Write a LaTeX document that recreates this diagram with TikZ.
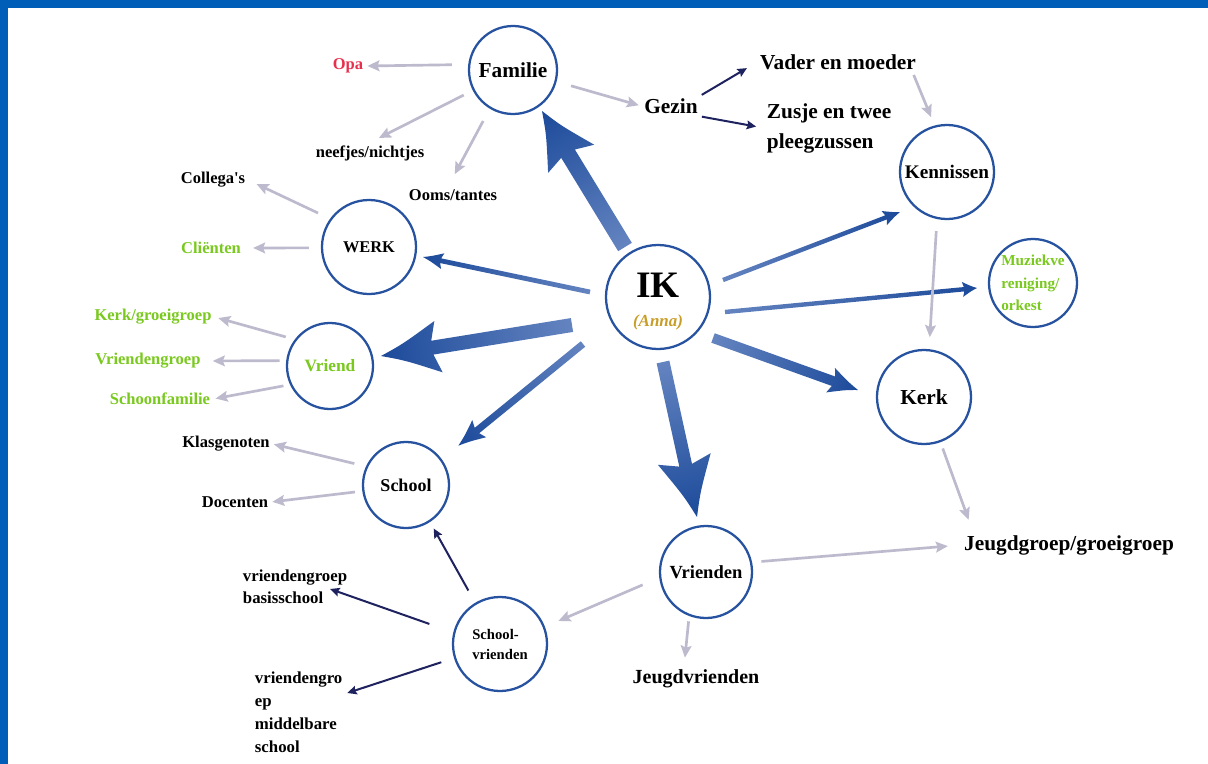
\documentclass[tikz,border=0pt]{standalone}
\usepackage{fontspec}
\setmainfont{Liberation Serif}
\usetikzlibrary{calc,arrows.meta}

\definecolor{frameblue}{RGB}{0,94,184}
\definecolor{ringblue}{RGB}{38,82,160}
\definecolor{softgray}{RGB}{189,186,205}
\definecolor{navy}{RGB}{30,34,94}
\definecolor{leaf}{RGB}{122,201,30}
\definecolor{rose}{RGB}{232,48,78}
\definecolor{gold}{RGB}{200,158,40}
\definecolor{fatlight}{RGB}{100,132,192}
\definecolor{fatdark}{RGB}{28,74,154}

% shaded block arrow: #1 tail, #2 tip, #3 half shaft, #4 half head, #5 head length (px)
\newcommand\fatarrow[5]{%
  \path let \p1=(#1), \p2=(#2),
    \n1={atan2(\y2-\y1,\x2-\x1)}, \n2={veclen(\x2-\x1,\y2-\y1)} in
    \pgfextra{\xdef\fatang{\n1}\xdef\fatlen{\n2}\xdef\fatx{\x1}\xdef\faty{\y1}};
  \pgfmathsetmacro\fA{\fatang}\pgfmathsetmacro\fL{\fatlen}
  \begin{scope}[transform canvas={shift={(\fatx,\faty)},rotate=\fA}]
    \pgfmathsetmacro\fs{0.75*#3}\pgfmathsetmacro\fw{0.75*#4}\pgfmathsetmacro\fh{0.75*#5}
    \pgfmathsetmacro\fb{\fL-\fh}\pgfmathsetmacro\fc{\fL-1.12*\fh}
    \pgfmathsetmacro\fqx{\fL-0.45*\fh}\pgfmathsetmacro\fqy{0.32*\fw}
    \shade[left color=fatlight,right color=fatdark]
      (0pt,\fs pt) -- (\fb pt,\fs pt) -- (\fc pt,\fw pt)
      .. controls (\fqx pt,\fqy pt) .. (\fL pt,0pt)
      .. controls (\fqx pt,-\fqy pt) .. (\fc pt,-\fw pt)
      -- (\fb pt,-\fs pt) -- (0pt,-\fs pt) -- cycle;
  \end{scope}}

\tikzset{
  ring/.style={circle, draw=ringblue, line width=1.7pt, inner sep=0pt, align=center},
  lab/.style={inner sep=2pt, font=\bfseries\fontsize{12.4}{15}\selectfont},
  biglab/.style={inner sep=2pt, font=\bfseries\fontsize{16}{22.5}\selectfont},
  grayarr/.style={draw=softgray, line width=2pt, -{Stealth[length=9pt,width=8pt,inset=1.5pt]}},
  navyarr/.style={draw=navy, line width=1.5pt, -{Stealth[length=7pt,width=6.5pt,inset=1pt]}},
}

\begin{document}
\begin{tikzpicture}[x=0.75pt,y=-0.75pt]
\useasboundingbox (0,0) rectangle (1208,764);
\fill[white] (0,0) rectangle (1208,764);
% frame
\fill[frameblue] (0,0) rectangle (1208,8);
\fill[frameblue] (0,0) rectangle (8,764);

% circles
\node[ring, minimum size=78pt] (ik) at (658,297) {};
\node[ring, minimum size=66pt, font=\bfseries\fontsize{16}{18}\selectfont] (fam) at (513,70) {Familie};
\node[ring, minimum size=70.5pt, font=\bfseries\fontsize{12.3}{14}\selectfont] (werk) at (369,247) {WERK};
\node[ring, minimum size=64.5pt, text=leaf, font=\bfseries\fontsize{13}{15}\selectfont] (vriend) at (330,366) {Vriend};
\node[ring, minimum size=64.5pt, font=\bfseries\fontsize{13.5}{15}\selectfont] (school) at (406,485) {School};
\node[ring, minimum size=70.5pt, font=\bfseries\fontsize{11}{15}\selectfont, align=left] (sv) at (500,644) {School-\\vrienden};
\node[ring, minimum size=69pt, font=\bfseries\fontsize{13.9}{16}\selectfont] (vrienden) at (706,572) {Vrienden};
\node[ring, minimum size=70.5pt, font=\bfseries\fontsize{16}{18}\selectfont] (kerk) at (924,397) {Kerk};
\node[ring, minimum size=70.5pt, font=\bfseries\fontsize{14.4}{16}\selectfont] (kenn) at (947,172) {Kennissen};
\node[ring, minimum size=66pt, text=leaf, font=\bfseries\fontsize{11.4}{17}\selectfont, align=left] (muziek) at (1033,283) {Muziekve\\reniging/\\orkest};

% centre texts
\node[inner sep=0pt, font=\bfseries\fontsize{28}{30}\selectfont] (iktext) at (658,285) {IK};
\node[inner sep=0pt, text=gold, font=\bfseries\itshape\fontsize{12.7}{14}\selectfont] (anna) at (658,322) {(Anna)};

% labels
\node[lab, text=rose] (opa) at (348,66) {Opa};
\node[lab] (neef) at (370,153) {neefjes/nichtjes};
\node[lab] (ooms) at (453,195) {Ooms/tantes};
\node[biglab] (gezin) at (671,106) {Gezin};
\node[biglab] (vader) at (838,62) {Vader en moeder};
\node[biglab, anchor=west, align=left] (zusje) at (764,128) {Zusje en twee\\pleegzussen};
\node[lab] (col) at (213,180) {Collega\textquotesingle s};
\node[lab, text=leaf] (cli) at (211,248) {Cliënten};
\node[lab, text=leaf] (kg) at (153,317) {Kerk/groeigroep};
\node[lab, text=leaf] (vg) at (148,361) {Vriendengroep};
\node[lab, text=leaf] (sf) at (160,399) {Schoonfamilie};
\node[lab] (klas) at (226,444) {Klasgenoten};
\node[lab] (doc) at (235,502) {Docenten};
\node[lab, anchor=west, align=left, font=\bfseries\fontsize{12.6}{16.5}\selectfont] (vgb) at (240,587) {vriendengroep\\basisschool};
\node[lab, anchor=west, align=left, font=\bfseries\fontsize{12.6}{17.3}\selectfont] (vgm) at (252,712) {vriendengro\\ep\\middelbare\\school};
\node[biglab, font=\bfseries\fontsize{15}{18}\selectfont] (jv) at (696,679) {Jeugdvrienden};
\node[biglab] (jeugd) at (1069,545) {Jeugdgroep/groeigroep};

% block arrows from the centre
\fatarrow{$(ik)+(-33,-50)$}{$(fam)+(29,41)$}{8}{27}{50}
\fatarrow{$(ik)+(-86,28)$}{$(vriend)+(51,-10)$}{7}{26}{52}
\fatarrow{$(ik)+(5,65)$}{$(vrienden)+(-9,-55)$}{6.5}{27}{53}
\fatarrow{$(ik)+(55,41)$}{$(kerk)+(-66,-7)$}{5}{13}{26}
\fatarrow{$(ik)+(-75,47)$}{$(school)+(52,-39)$}{3.5}{11}{24}
\fatarrow{$(ik)+(-68,-5)$}{$(werk)+(54,10)$}{2.4}{8}{18}
\fatarrow{$(ik)+(65,-17)$}{$(kenn)+(-47,40)$}{2.2}{7.5}{15}
\fatarrow{$(ik)+(67,15)$}{$(muziek)+(-56,5)$}{2.2}{7.5}{13}

% grey links
\draw[grayarr, shorten <=12.3pt, shorten >=1pt] (fam.173) -- (opa.east);
\draw[grayarr, shorten <=7.6pt, shorten >=7.5pt] (fam.207.5) -- (neef.north);
\draw[grayarr, shorten <=10.5pt, shorten >=10.5pt] (fam.239) -- (ooms.120);
\draw[grayarr, shorten <=11.3pt, shorten >=2pt] (fam.345.3) -- (gezin.west);
\draw[grayarr, shorten <=2pt, shorten >=6.8pt] (vader.-8) -- (kenn.105.5);
\draw[grayarr, shorten <=9pt, shorten >=9pt] (kenn.258) -- (kerk.84);
\draw[grayarr, shorten <=5pt, shorten >=10pt] (kerk.290) -- ($(jeugd.north west)+(12,0)$);
\draw[grayarr, shorten <=7pt, shorten >=10pt] (vrienden.12.5) -- (jeugd.west);
\draw[grayarr, shorten <=4pt, shorten >=7pt] (vrienden.249.4) -- ($(jv.north)+(-12,0)$);
\draw[grayarr, shorten <=13.5pt, shorten >=11pt] (vrienden.187) -- (sv.21);
\draw[grayarr, shorten <=9pt, shorten >=1pt] (school.155.3) -- (klas.east);
\draw[grayarr, shorten <=5.6pt, shorten >=1pt] (school.188) -- (doc.east);
\draw[grayarr, shorten <=10pt, shorten >=7pt] (werk.144.5) -- (col.east);
\draw[grayarr, shorten <=9pt, shorten >=7pt] (werk.181) -- (cli.east);
\draw[grayarr, shorten <=7pt, shorten >=3pt] (vriend.143.6) -- (kg.east);
\draw[grayarr, shorten <=5pt, shorten >=7pt] (vriend.173) -- (vg.east);
\draw[grayarr, shorten <=5pt, shorten >=2pt] (vriend.205) -- (sf.east);

% navy links
\draw[navyarr, shorten <=1pt, shorten >=9pt] (gezin.north east) -- (vader.west);
\draw[navyarr, shorten <=1pt, shorten >=6pt] (gezin.south east) -- (zusje.west);
\draw[navyarr, shorten <=10.5pt, shorten >=5.6pt] (sv.121.6) -- (school.303.7);
\draw[navyarr, shorten <=19pt] (sv.166.3) -- ($(vgb.east)+(-20,2)$);
\draw[navyarr, shorten <=10pt] (sv.197.5) -- ($(vgm.east)+(2,-19)$);
\end{tikzpicture}
\end{document}
